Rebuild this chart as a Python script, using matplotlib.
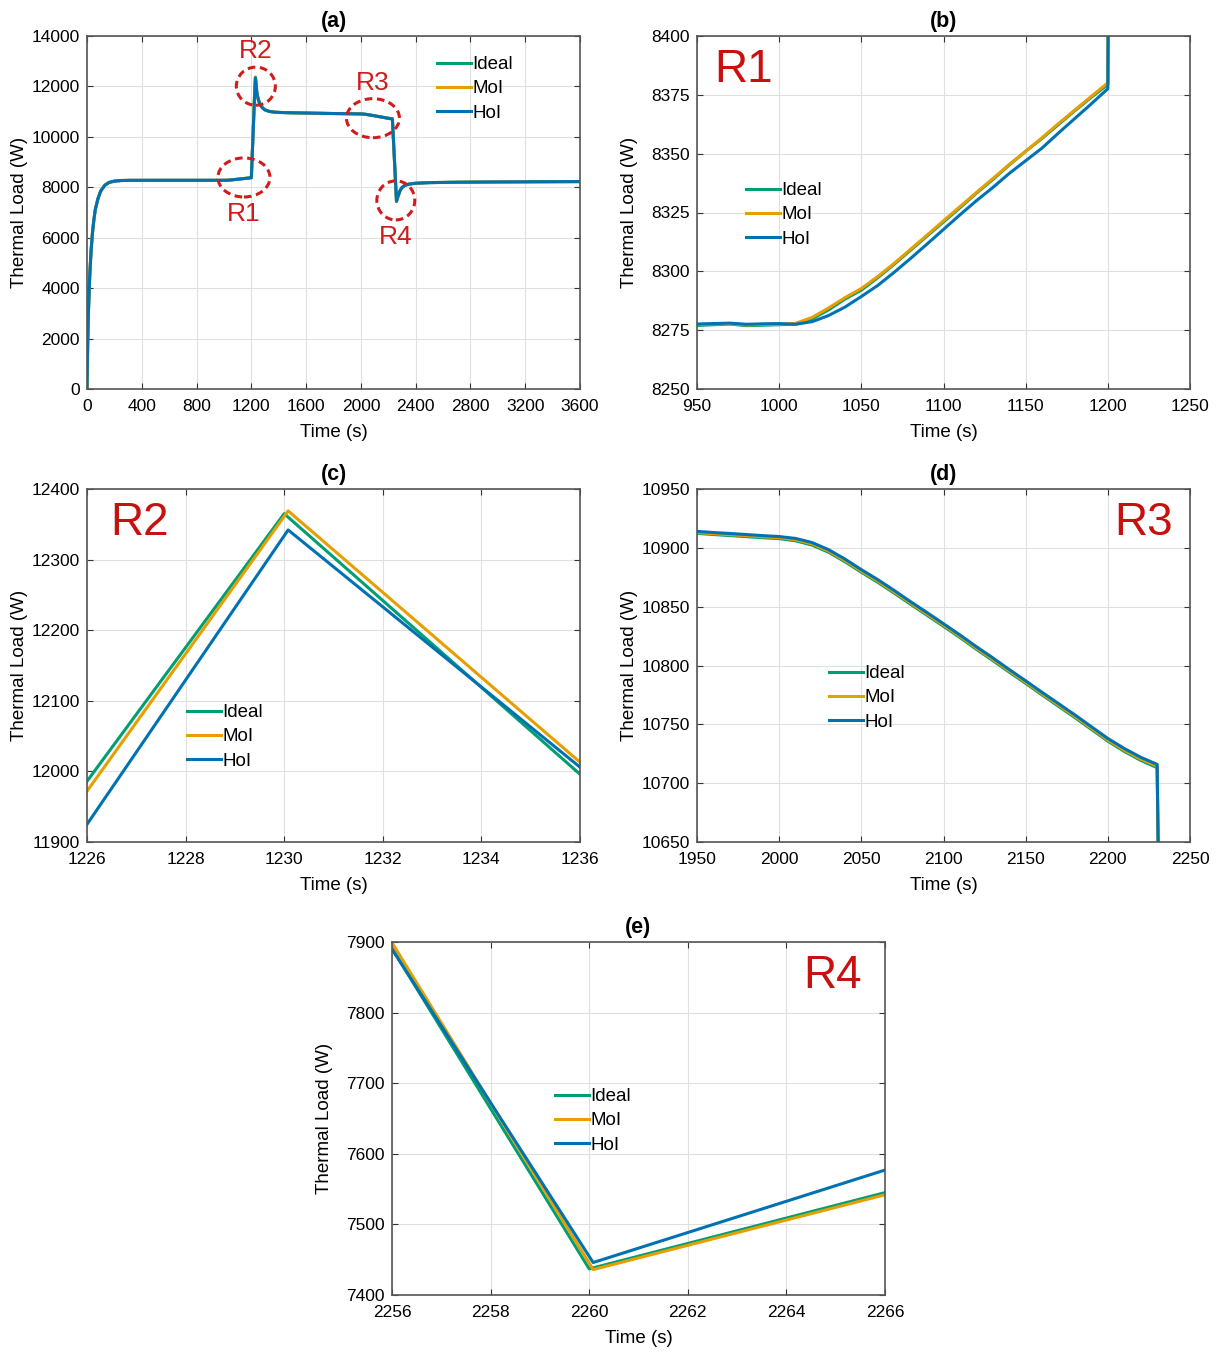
import matplotlib
matplotlib.use('Agg')
import matplotlib.pyplot as plt
from matplotlib.patches import Ellipse
import numpy as np

plt.rcParams['font.family'] = ['Liberation Sans', 'DejaVu Sans']

# start-up rise (common to all methods)
t_rise = [0, 5, 10, 20, 30, 40, 50, 60, 80, 100, 130, 160, 200, 250, 300, 600, 900]
q_rise = [0, 1800, 3000, 4500, 5500, 6200, 6700, 7100, 7550, 7850, 8080, 8190, 8245, 8268, 8275, 8277, 8277]

# R1 region
t_r1 = [950, 960, 970, 980, 990, 1000, 1010, 1020, 1030, 1040, 1050, 1060, 1070,
        1080, 1090, 1100, 1110, 1120, 1130, 1140, 1150, 1160, 1170, 1180, 1190, 1200]
q_r1_ideal = [8277.0, 8277.3, 8277.6, 8276.9, 8277.1, 8277.3, 8277.6, 8279.8, 8283.6, 8288.2,
              8292.0, 8297.3, 8303.0, 8309.0, 8315.0, 8321.0, 8327.0, 8333.2, 8339.0, 8345.2,
              8351.0, 8356.5, 8362.4, 8368.3, 8374.0, 8379.4]
q_r1_moi = [8277.4, 8277.6, 8277.8, 8277.2, 8277.4, 8277.5, 8277.9, 8280.4, 8284.4, 8288.8,
            8292.7, 8297.8, 8303.4, 8309.4, 8315.4, 8321.5, 8327.5, 8333.5, 8339.4, 8345.4,
            8351.0, 8356.8, 8362.8, 8368.6, 8374.4, 8380.1]
q_r1_hoi = [8277.6, 8277.8, 8278.0, 8277.5, 8277.7, 8277.8, 8277.5, 8278.6, 8281.2, 8284.8,
            8289.3, 8294.0, 8299.6, 8305.5, 8311.6, 8317.8, 8324.0, 8330.0, 8335.6, 8341.6,
            8347.0, 8352.4, 8358.8, 8365.0, 8371.2, 8377.6]

# R2 region (peak)
t_r2_ideal = [1226, 1230.0, 1236]
q_r2_ideal = [11986, 12365, 11996]
t_r2_moi = [1226, 1230.08, 1236]
q_r2_moi = [11972, 12369, 12013]
t_r2_hoi = [1226, 1230.08, 1236]
q_r2_hoi = [11925, 12342, 12006]

# decay after the peak (common)
t_mid = [1240, 1245, 1250, 1260, 1270, 1285, 1300, 1330, 1370, 1420, 1500, 1600, 1700, 1800, 1900]
q_mid = [11760, 11620, 11500, 11340, 11230, 11130, 11070, 11010, 10980, 10965, 10955, 10945,
         10935, 10925, 10918]

# R3 region
t_r3 = [1950, 1960, 1970, 1980, 1990, 2000, 2010, 2020, 2030, 2040, 2050, 2060, 2070, 2080,
        2090, 2100, 2110, 2120, 2130, 2140, 2150, 2160, 2170, 2180, 2190, 2200, 2210, 2220, 2230]
q_r3_ideal = [10912.3, 10911.3, 10910.4, 10909.5, 10908.6, 10907.8, 10906.0, 10902.3, 10896.3,
              10888.2, 10879.3, 10870.7, 10861.5, 10852.0, 10842.7, 10833.3, 10823.8, 10813.8,
              10804.2, 10794.4, 10784.8, 10775.0, 10765.3, 10755.7, 10745.7, 10735.7, 10727.0,
              10719.4, 10713.2]
q_r3_moi = [10913.0, 10912.0, 10911.2, 10910.3, 10909.4, 10908.6, 10906.9, 10903.3, 10897.3,
            10889.2, 10880.3, 10871.7, 10862.5, 10853.0, 10843.7, 10834.3, 10824.8, 10814.8,
            10805.2, 10795.4, 10785.8, 10776.0, 10766.3, 10756.7, 10746.7, 10736.7, 10728.0,
            10720.5, 10714.5]
q_r3_hoi = [10914.0, 10913.0, 10912.2, 10911.3, 10910.4, 10909.6, 10908.0, 10904.5, 10898.5,
            10890.5, 10881.5, 10873.0, 10863.8, 10854.2, 10845.0, 10835.5, 10826.0, 10816.0,
            10806.5, 10796.6, 10787.0, 10777.2, 10767.6, 10758.0, 10748.0, 10738.0, 10729.5,
            10722.0, 10716.0]

# R4 region (dip)
t_r4_ideal = [2256, 2260.0, 2266]
q_r4_ideal = [7891, 7437, 7545]
t_r4_moi = [2256, 2260.08, 2266]
q_r4_moi = [7899, 7436, 7542]
t_r4_hoi = [2256, 2260.08, 2266]
q_r4_hoi = [7890, 7446, 7577]

# recovery tail (common)
t_tail = [2275, 2285, 2300, 2320, 2350, 2400, 2500, 2700, 3000, 3300, 3600]
q_tail = [7700, 7860, 7990, 8075, 8125, 8160, 8185, 8200, 8212, 8220, 8226]

labels = ['Ideal', 'MoI', 'HoI']
colores = ['#009E73', '#E69F00', '#0072B2']

series = []
for tr2, qr1, qr2, qr3, tr4, qr4 in [(t_r2_ideal, q_r1_ideal, q_r2_ideal, q_r3_ideal, t_r4_ideal, q_r4_ideal),
                                     (t_r2_moi, q_r1_moi, q_r2_moi, q_r3_moi, t_r4_moi, q_r4_moi),
                                     (t_r2_hoi, q_r1_hoi, q_r2_hoi, q_r3_hoi, t_r4_hoi, q_r4_hoi)]:
    t = np.concatenate([t_rise, t_r1, tr2, t_mid, t_r3, tr4, t_tail])
    q = np.concatenate([q_rise, qr1, qr2, q_mid, qr3, qr4, q_tail])
    series.append((t, q))

W, H = 1218, 1352
fig = plt.figure(figsize=(W / 100, H / 100), dpi=100)

def ejes(px_left, px_top):
    return fig.add_axes([px_left / W, 1 - (px_top + 353) / H, 493 / W, 353 / H])

# (pixel left, pixel top, xlim, xticks, ylim, yticks, title, legend pos)
paneles = [
    (87, 36, (0, 3600), np.arange(0, 3601, 400), (0, 14000), np.arange(0, 14001, 2000), '(a)', (437, 63)),
    (697, 36, (950, 1250), np.arange(950, 1251, 50), (8250, 8400), np.arange(8250, 8401, 25), '(b)', (746, 189)),
    (87, 489, (1226, 1236), np.arange(1226, 1237, 2), (11900, 12400), np.arange(11900, 12401, 100), '(c)', (187, 711)),
    (697, 489, (1950, 2250), np.arange(1950, 2251, 50), (10650, 10950), np.arange(10650, 10951, 50), '(d)', (829, 672)),
    (392, 942, (2256, 2266), np.arange(2256, 2267, 2), (7400, 7900), np.arange(7400, 7901, 100), '(e)', (555, 1095)),
]

axs = []
for pl, pt, xl, xt, yl, yt, tit, (lx, ly) in paneles:
    ax = ejes(pl, pt)
    for (t, q), lab, c in zip(series, labels, colores):
        ax.plot(t, q, color=c, lw=2.2, label=lab)
    ax.set_xlim(xl)
    ax.set_ylim(yl)
    ax.set_xticks(xt)
    ax.set_yticks(yt)
    ax.grid(True, color='#e0e0e0', lw=0.8)
    ax.set_axisbelow(True)
    ax.tick_params(direction='in', top=True, right=True, length=4, width=0.8,
                   color='#333333', labelsize=12.5)
    ax.tick_params(axis='x', pad=7)
    ax.tick_params(axis='y', pad=5)
    for s in ax.spines.values():
        s.set_color('#555555')
        s.set_linewidth(1.2)
    ax.set_xlabel('Time (s)', fontsize=13.5)
    ax.set_ylabel('Thermal Load (W)', fontsize=13.5)
    ax.xaxis.set_label_coords(0.5, -0.098)
    ax.yaxis.set_label_coords(-0.12, 0.5)
    ax.set_title(tit, fontsize=15.5, fontweight='bold', pad=6.5)
    ax.legend(loc='upper left', bbox_to_anchor=(lx / W, 1 - (ly - 7) / H),
              bbox_transform=fig.transFigure, frameon=False, fontsize=13.5,
              handlelength=1.8, handletextpad=0.1, labelspacing=0.38, borderpad=0,
              borderaxespad=0)
    axs.append(ax)

# marked regions on the full run
rojo = '#D01C1C'
ax = axs[0]
for (cx, cy, w, h), txt, ty in [((1146, 8390, 380, 1550), 'R1', 6960),
                                ((1233, 12010, 285, 1510), 'R2', 13400),
                                ((2088, 10740, 387, 1550), 'R3', 12130),
                                ((2255, 7480, 277, 1550), 'R4', 6045)]:
    ax.add_patch(Ellipse((cx, cy), w, h, fill=False, ec=rojo, lw=2.2, ls=(0, (2.5, 1.5)), zorder=5))
    ax.text(cx, ty, txt, color=rojo, fontsize=19, ha='center', va='center')

# region tags on the zoomed panels
for ax, txt, x, ha in [(axs[1], 'R1', 0.034, 'left'), (axs[2], 'R2', 0.047, 'left'),
                       (axs[3], 'R3', 0.966, 'right'), (axs[4], 'R4', 0.953, 'right')]:
    ax.text(x, 0.905, txt, transform=ax.transAxes, color='#C81010', fontsize=33,
            ha=ha, va='center')

fig.savefig('out.png', dpi=100)
